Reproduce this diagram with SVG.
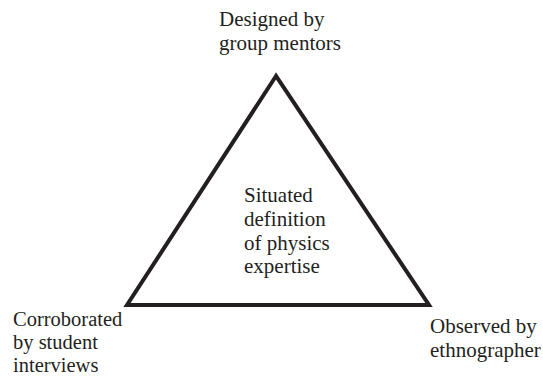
<svg xmlns="http://www.w3.org/2000/svg" width="543" height="378" viewBox="0 0 543 378">
<style>
text{font-family:"Liberation Serif","Times New Roman",serif;font-size:21px;fill:#231f20}
.edge{fill:none;stroke:#231f20;stroke-width:4;stroke-linejoin:miter}
</style>
<rect width="543" height="378" fill="#fff"/>
<g id="connectors">
<polygon class="edge" points="276,76 127,305 429,305"/>
</g>
<g id="top"><text x="219" y="26">Designed by</text><text x="219" y="50">group mentors</text></g>
<g id="center"><text x="244" y="202">Situated</text><text x="244" y="226">definition</text><text x="244" y="250">of physics</text><text x="244" y="273">expertise</text></g>
<g id="left" style="font-size:20.5px"><text x="13" y="326" style="font-size:20.5px">Corroborated</text><text x="13" y="349" style="font-size:20.5px">by student</text><text x="13" y="372" style="font-size:20.5px">interviews</text></g>
<g id="right"><text x="430" y="333">Observed by</text><text x="430" y="357">ethnographer</text></g>
</svg>
